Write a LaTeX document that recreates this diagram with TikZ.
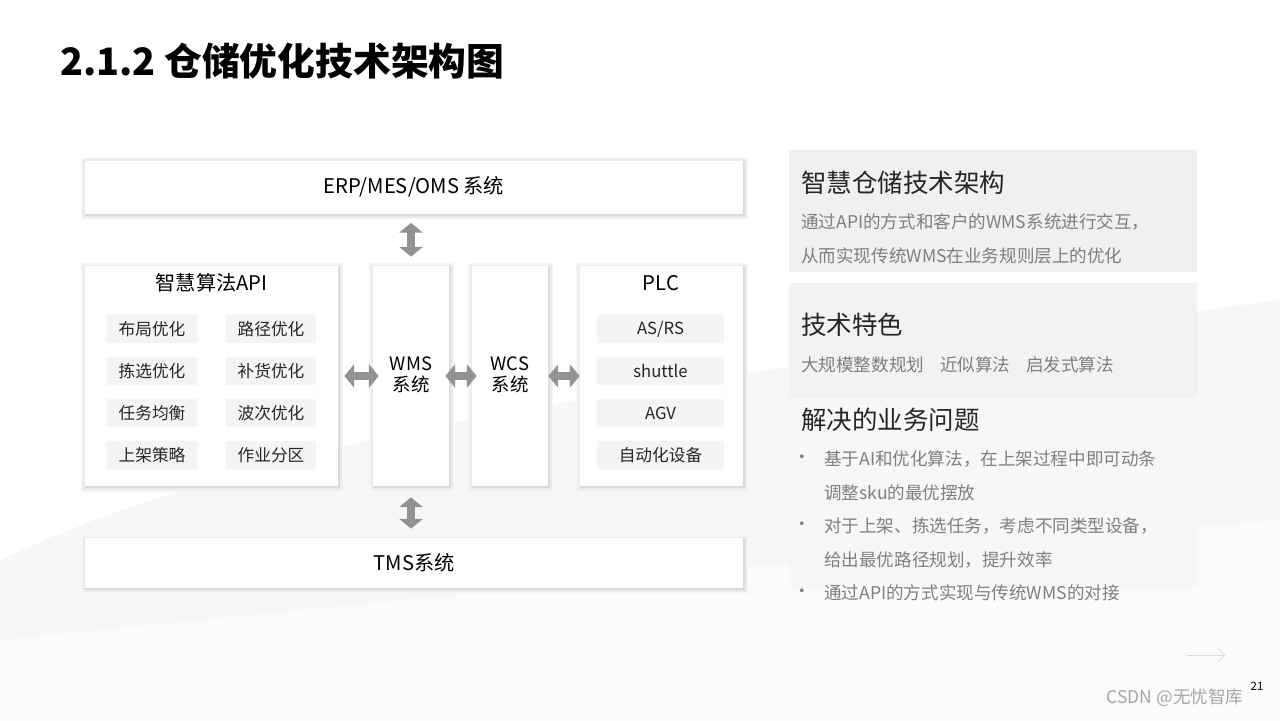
\documentclass[tikz,border=0pt]{standalone}
\usepackage{fontspec}
\setmainfont{Noto Sans CJK SC}
\usetikzlibrary{arrows.meta}
\definecolor{tgray}{HTML}{7F7F7F}
\definecolor{igray}{HTML}{F4F4F6}
\tikzset{
  card/.style={fill=white,draw=none,
    preaction={draw=black!4,line width=5pt,transform canvas={xshift=0.5pt,yshift=-0.8pt}},
    preaction={draw=black!8,line width=3pt,transform canvas={xshift=0.5pt,yshift=-0.8pt}},
    preaction={draw=black!14,line width=1.2pt,transform canvas={xshift=0.5pt,yshift=-0.8pt}}},
  item/.style={fill=igray,draw=none,minimum height=28*0.02cm,inner sep=0pt,font=\fontsize{9.5}{11}\selectfont,text=black!85},
  dbl/.style={{Triangle[length=5.5pt,width=13pt]}-{Triangle[length=5.5pt,width=13pt]},line width=5pt,draw=tgray!85},
}
\begin{document}
\begin{tikzpicture}[x=0.02cm,y=-0.02cm]
\useasboundingbox (0,0) rectangle (1280,720);
\fill[white] (0,0) rectangle (1280,720);
\fill[black!3] (0,560) .. controls (300,420) and (700,380) .. (1280,300) -- (1280,720) -- (0,720) -- cycle;
\fill[black!1.5] (0,640) .. controls (400,600) and (800,560) .. (1280,520) -- (1280,720) -- (0,720) -- cycle;
\node[anchor=west,font=\fontsize{21.5}{25}\selectfont\bfseries] (title) at (54,61) {2.1.2 仓储优化技术架构图};
\node[card,minimum width=658*0.02cm,minimum height=53*0.02cm,font=\fontsize{11.5}{14}\selectfont] (erp) at (414,187) {ERP/MES/OMS 系统};
\node[card,minimum width=253*0.02cm,minimum height=220*0.02cm] (api) at (211.5,376) {};
\node[card,minimum width=76*0.02cm,minimum height=220*0.02cm] (wms) at (411,376) {};
\node[card,minimum width=76*0.02cm,minimum height=220*0.02cm] (wcs) at (510,376) {};
\node[card,minimum width=163*0.02cm,minimum height=220*0.02cm] (plc) at (661.5,376) {};
\node[card,minimum width=658*0.02cm,minimum height=50*0.02cm,font=\fontsize{11.5}{14}\selectfont] (tms) at (414,563) {TMS系统};
\node[font=\fontsize{11.5}{14}\selectfont] (apit) at (211.5,283) {智慧算法API};
\node[font=\fontsize{11.5}{14}\selectfont] (plct) at (661,283) {PLC};
\node[align=center,font=\fontsize{10.5}{12}\selectfont] (wmst) at (411,375) {WMS\\系统};
\node[align=center,font=\fontsize{10.5}{12}\selectfont] (wcst) at (510,375) {WCS\\系统};
\foreach \a/\b/\y [count=\i] in {布局优化/路径优化/329,拣选优化/补货优化/371,任务均衡/波次优化/413,上架策略/作业分区/455}{
  \node[item,minimum width=90*0.02cm] (l\i) at (152,\y) {\a};
  \node[item,minimum width=90*0.02cm] (r\i) at (271,\y) {\b};
}
\foreach \t/\y [count=\i] in {{AS/RS}/329,shuttle/371,AGV/413,自动化设备/455}{
  \node[item,minimum width=127*0.02cm] (p\i) at (660.5,\y) {\t};
}
\draw[dbl] ([yshift=-9*0.02cm]erp.south -| wms) -- ([yshift=9*0.02cm]wms.north);
\draw[dbl] ([yshift=9*0.02cm]tms.north -| wms) -- ([yshift=-11*0.02cm]wms.south);
\draw[dbl] ([xshift=6*0.02cm]api.east) -- ([xshift=6*0.02cm]wms.west);
\draw[dbl] ([xshift=-4*0.02cm]wms.east) -- ([xshift=5*0.02cm]wcs.west);
\draw[dbl] ([xshift=0*0.02cm]wcs.east) -- ([xshift=0*0.02cm]plc.west);
\fill[black!6] (789,150) rectangle (1197,272);
\fill[black!5] (789,283) rectangle (1197,398);
\fill[black!3] (789,408) rectangle (1197,588);
\node[anchor=west,font=\fontsize{14.5}{17}\selectfont,text=black!85] (h1) at (795,183) {智慧仓储技术架构};
\node[anchor=west,font=\fontsize{10}{12}\selectfont,text=tgray] (t1) at (795,222) {通过API的方式和客户的WMS系统进行交互，};
\node[anchor=west,font=\fontsize{10}{12}\selectfont,text=tgray] (t2) at (795,256) {从而实现传统WMS在业务规则层上的优化};
\node[anchor=west,font=\fontsize{14.5}{17}\selectfont,text=black!85] (h2) at (795,325) {技术特色};
\node[anchor=west,font=\fontsize{10}{12}\selectfont,text=tgray] (t3) at (795,365) {大规模整数规划\hspace{0.9em}近似算法\hspace{0.9em}启发式算法};
\node[anchor=west,font=\fontsize{14.5}{17}\selectfont,text=black!85] (h3) at (795,420) {解决的业务问题};
\foreach \t/\y/\b in {基于AI和优化算法，在上架过程中即可动条/459/1,调整sku的最优摆放/493/0,对于上架、拣选任务，考虑不同类型设备，/526/1,给出最优路径规划，提升效率/560/0,通过API的方式实现与传统WMS的对接/593/1}{
  \node[anchor=west,font=\fontsize{10}{12}\selectfont,text=tgray] at (818,\y) {\t};
  \ifnum\b=1 \node[font=\fontsize{10}{12}\selectfont,text=tgray] at (802,\y) {•};\fi
}
\draw[black!15,-{Straight Barb[length=4pt]}] (1187,655) -- (1225,655);
\node[font=\fontsize{6.5}{8}\selectfont] (pg) at (1257,686) {21};
\node[font=\fontsize{10}{12}\selectfont,text=black!35] (wm) at (1175,698) {CSDN @无忧智库};
\end{tikzpicture}
\end{document}
